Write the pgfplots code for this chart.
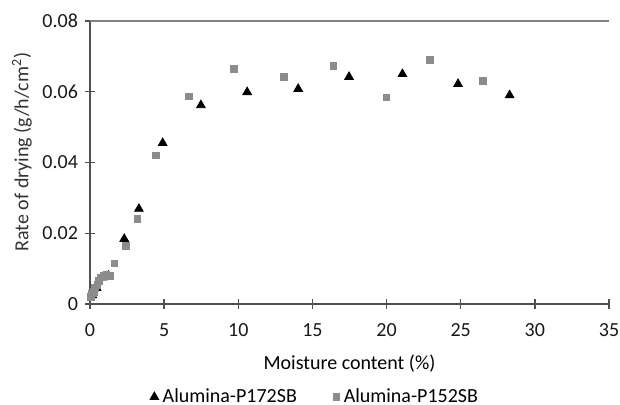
\documentclass[border=0pt]{standalone}
\usepackage{fontspec}
\setmainfont{Carlito}
\usepackage{pgfplots}
\pgfplotsset{compat=1.18}
\definecolor{sqgray}{RGB}{140,140,140}
\definecolor{axgray}{RGB}{80,80,80}
\begin{document}
\begin{tikzpicture}
\path[use as bounding box] (-45pt,-50.5pt) rectangle (265pt,152pt);
\begin{axis}[
  at={(0,0)}, anchor=south west, scale only axis,
  width=259.5pt, height=141.5pt,
  xmin=0, xmax=35, ymin=0, ymax=0.08,
  axis x line=bottom, axis y line=left,
  axis line style={-, draw=axgray, line width=0.7pt},
  scaled y ticks=false,
  xtick={0,5,10,15,20,25,30,35}, xticklabels={0,5,10,15,20,25,30,35},
  ytick={0,0.02,0.04,0.06,0.08}, yticklabels={0,0.02,0.04,0.06,0.08},
  tick align=center, major tick length=5pt,
  tick style={draw=axgray, line width=0.7pt},
  ticklabel style={font=\fontsize{10}{12}\selectfont, text=black!90},
  xticklabel style={anchor=base, yshift=-14pt},
  yticklabel style={anchor=east},
  xlabel={Moisture content (\%)},
  xlabel style={at={(axis description cs:0.5,0)}, anchor=center, yshift=-30pt, font=\fontsize{10}{12}\selectfont},
  ylabel={Rate of drying (g/h/cm\textsuperscript{2})},
  ylabel style={at={(axis description cs:-0.131,0.537)}, anchor=center, font=\fontsize{10}{12}\selectfont, text=black!80},
  clip=false,
  legend columns=2,
  legend style={at={(axis description cs:0.4355,0)}, anchor=center, yshift=-46.5pt, draw=none, fill=none,
    font=\fontsize{10}{12}\selectfont, /tikz/every even column/.append style={column sep=16pt}},
  legend cell align=left,
]
\draw[black!50, line width=1pt] (rel axis cs:0,1) -- (rel axis cs:1,1);
\addplot[only marks, mark=triangle*, mark size=2.5pt, color=black] coordinates {
(0.15,0.0025) (0.45,0.0045) (0.85,0.0075) (1.25,0.008)
(2.31,0.0184) (3.30,0.0269) (4.9,0.0455) (7.48,0.0562)
(10.6,0.0599) (14.04,0.0608) (17.47,0.0642) (21.07,0.0650)
(24.82,0.0622) (28.3,0.0590)
};
\addlegendentry{Alumina-P172SB}
\addplot[only marks, mark=square*, mark size=1.7pt, color=sqgray] coordinates {
(0.05,0.002) (0.15,0.003) (0.25,0.0035) (0.35,0.0045) (0.5,0.0055)
(0.6,0.0065) (0.75,0.0075) (0.95,0.008) (1.1,0.0082) (1.35,0.008)
(1.64,0.0115) (2.4,0.0165) (3.19,0.0241) (4.43,0.0420) (6.65,0.0587)
(9.70,0.0665) (13.07,0.0642) (16.41,0.0673) (19.99,0.0584)
(22.91,0.0691) (26.5,0.0631)
};
\addlegendentry{Alumina-P152SB}
\end{axis}
\end{tikzpicture}
\end{document}
